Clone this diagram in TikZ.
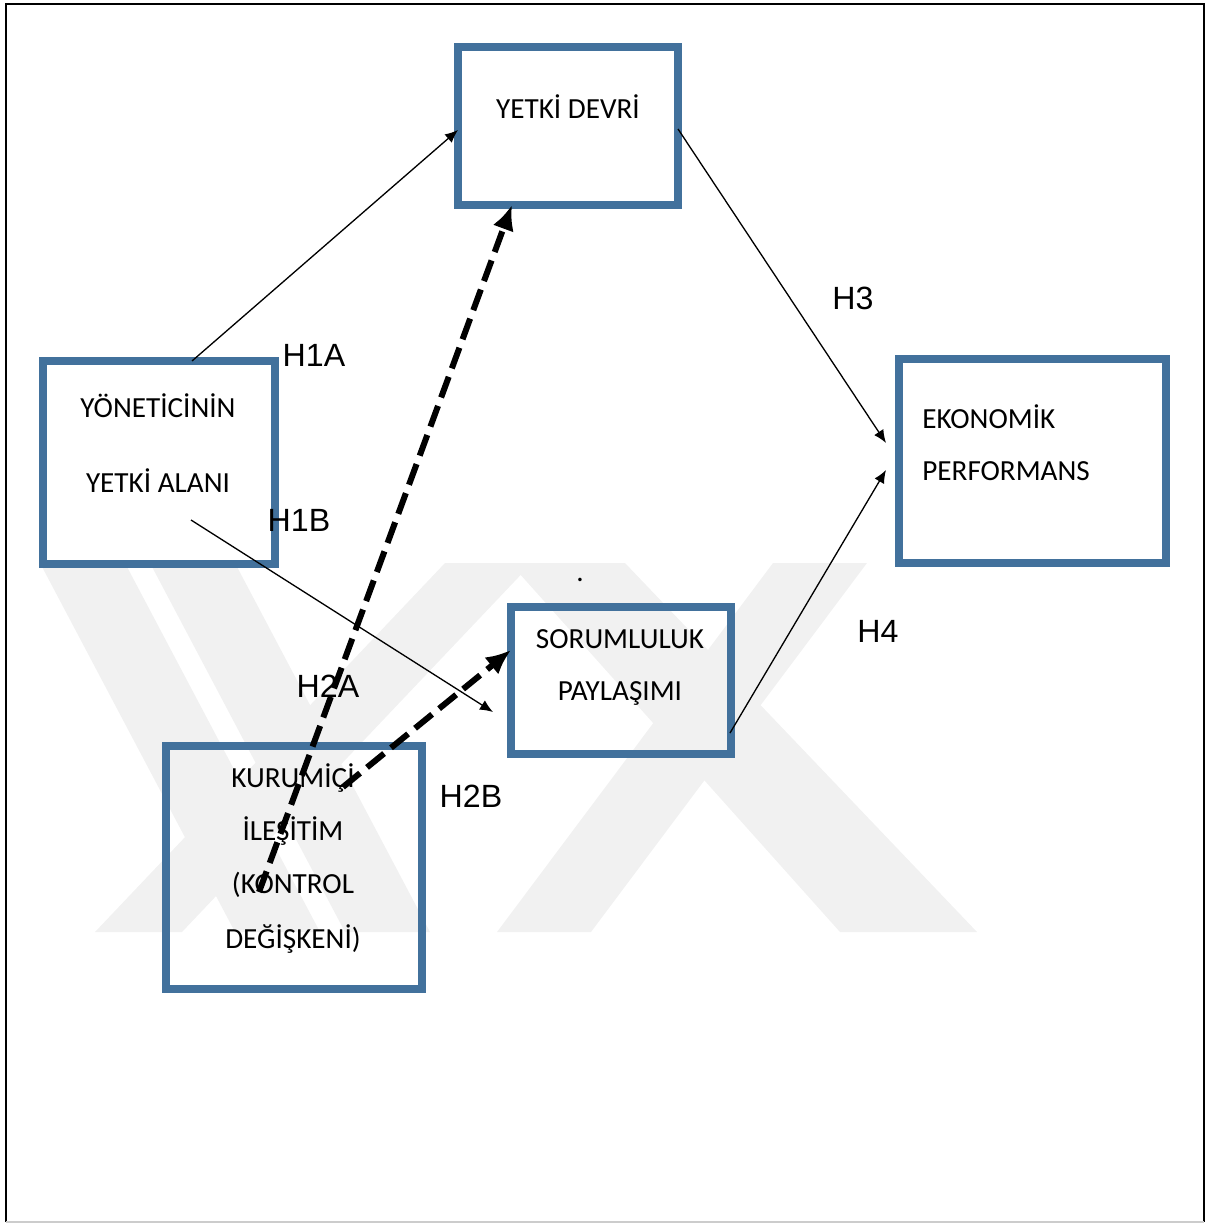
\documentclass[tikz,border=0pt]{standalone}
\usepackage{fontspec}
\setmainfont{Carlito}
\newfontfamily\arialfont{Liberation Sans}
\usetikzlibrary{arrows.meta}
\definecolor{boxblue}{RGB}{66,113,156}
\definecolor{markgray}{RGB}{241,241,241}
\begin{document}
\begin{tikzpicture}[x=0.02cm,y=-0.02cm]
        % Define styles
        \tikzset{
            block/.style={rectangle, draw=boxblue, line width=8*0.02cm, inner sep=0pt},
            boxtext/.style={font=\fontsize{16.6}{19}\selectfont, inner sep=0pt},
            hyp/.style={font=\arialfont\fontsize{18.3}{21}\selectfont, inner sep=0pt},
            arrow/.style={-{Latex[length=13*0.02cm, width=11*0.02cm]}, line width=0.75pt},
            bigarrow/.style={-{Latex[length=25*0.02cm, width=22*0.02cm]}, line width=6*0.02cm, dash pattern=on 22*0.02cm off 9*0.02cm}
        }
        \useasboundingbox (0,0) rectangle (1218,1223);

        % Watermark
        \fill[markgray] (40,563) -- (125,563) -- (320,932) -- (235,932) -- cycle;
        \fill[markgray] (150,563) -- (235,563) -- (430,932) -- (345,932) -- cycle;
        \fill[markgray] (445,563) -- (532,563) -- (182,932) -- (95,932) -- cycle;
        \fill[markgray] (510,563) -- (625,563) -- (977,932) -- (840,932) -- cycle;
        \fill[markgray] (773,563) -- (867,563) -- (591,932) -- (497,932) -- cycle;

        % Frame
        \draw[line width=2*0.02cm] (6,1222) -- (6,4) -- (1204,4) -- (1204,1222);
        \draw[gray!40, line width=2*0.02cm] (6,1222) -- (1204,1222);

        % Boxes
        \node[block, minimum width=220*0.02cm, minimum height=158*0.02cm] (devri) at (568,126) {};
        \node[block, minimum width=232*0.02cm, minimum height=203*0.02cm] (alani) at (159,462.5) {};
        \node[block, minimum width=256*0.02cm, minimum height=243*0.02cm] (iletisim) at (294,867.5) {};
        \node[block, minimum width=220*0.02cm, minimum height=147*0.02cm] (paylasim) at (621,680.5) {};
        \node[block, minimum width=267*0.02cm, minimum height=204*0.02cm] (performans) at (1032.5,461) {};

        % Box texts
        \node[boxtext] (devri_t) at (568,107) {YETKİ DEVRİ};
        \node[boxtext] (alani_t1) at (158,406) {YÖNETİCİNİN};
        \node[boxtext] (alani_t2) at (158,481) {YETKİ ALANI};
        \node[boxtext] (iletisim_t1) at (293,778) {KURUMİÇİ};
        \node[boxtext] (iletisim_t2) at (293,831) {İLEŞİTİM};
        \node[boxtext] (iletisim_t3) at (293,885) {(KONTROL};
        \node[boxtext] (iletisim_t4) at (293,939) {DEĞİŞKENİ)};
        \node[boxtext] (paylasim_t1) at (620,639) {SORUMLULUK};
        \node[boxtext] (paylasim_t2) at (620,693) {PAYLAŞIMI};
        \node[boxtext, anchor=west] (performans_t1) at (922,417) {EKONOMİK};
        \node[boxtext, anchor=west] (performans_t2) at (922,471) {PERFORMANS};
        \node[boxtext] (dot) at (580,580) {.};

        % Arrow ends
        \coordinate (h1a_s) at (192,361);
        \coordinate (h1a_e) at (458,130);
        \coordinate (h1b_s) at (191,520);
        \coordinate (h1b_e) at (493,712);
        \coordinate (h3_s) at (678,129);
        \coordinate (h3_e) at (886,443);
        \coordinate (h4_s) at (730,733);
        \coordinate (h4_e) at (886,470);
        \coordinate (h2a_s) at (259,892);
        \coordinate (h2a_e) at (512,205);
        \coordinate (h2b_s) at (343,787);
        \coordinate (h2b_e) at (511,650);

        % Arrows
        \draw[arrow] (h1a_s) -- (h1a_e);
        \draw[arrow] (h1b_s) -- (h1b_e);
        \draw[arrow] (h3_s) -- (h3_e);
        \draw[arrow] (h4_s) -- (h4_e);
        \draw[bigarrow] (h2a_s) -- (h2a_e);
        \draw[bigarrow] (h2b_s) -- (h2b_e);

        % Labels
        \node[hyp] (h1a) at (314,355) {H1A};
        \node[hyp] (h1b) at (299,520) {H1B};
        \node[hyp] (h2a) at (328,686) {H2A};
        \node[hyp] (h2b) at (471,796) {H2B};
        \node[hyp] (h3) at (853,298) {H3};
        \node[hyp] (h4) at (878,631) {H4};
\end{tikzpicture}
\end{document}
